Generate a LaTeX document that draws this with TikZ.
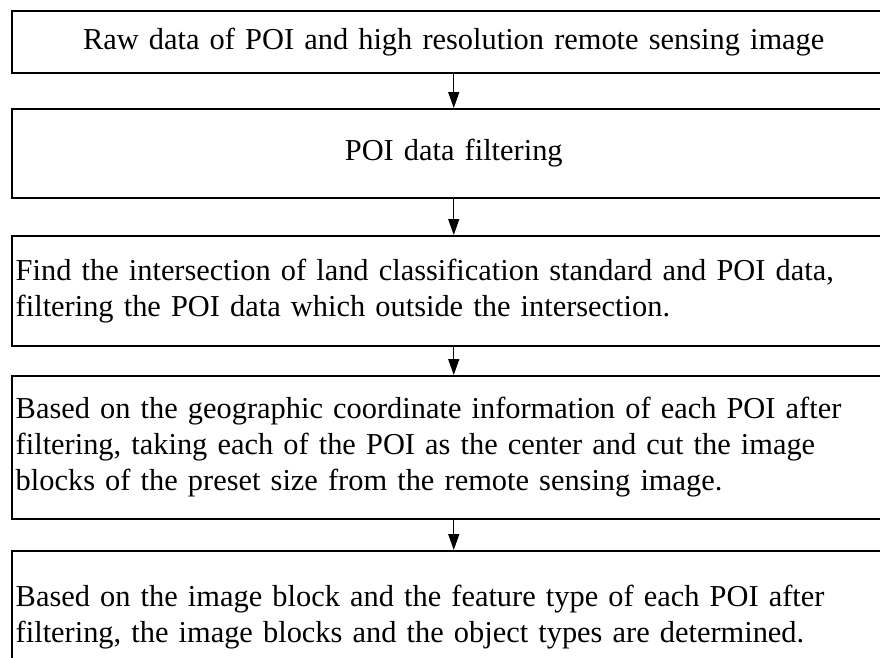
\documentclass[tikz,border=0pt]{standalone}
\usepackage{fontspec}
\setmainfont{Liberation Serif}
\usetikzlibrary{arrows.meta}
\tikzset{
  stepbox/.style={draw=black, line width=1.5pt, anchor=north west,
    minimum width=884pt, text width=876pt, inner xsep=4pt, inner ysep=0pt,
    font=\fontsize{30.4}{36}\selectfont},
  flowarrow/.style={draw=black, line width=1.4pt, -{Triangle[length=16pt,width=11pt]}}
}
\begin{document}
\begin{tikzpicture}[x=1pt,y=-1pt]
\useasboundingbox (0,0) rectangle (880,657);
\clip (0,0) rectangle (880,657);
\node[stepbox, minimum height=62pt, align=center] (b1) at (11,10)
  {Raw data of POI and high resolution remote sensing image};
\node[stepbox, minimum height=89pt, align=center] (b2) at (11,108)
  {POI data filtering};
\node[stepbox, minimum height=110pt, align=left] (b3) at (11,235)
  {Find the intersection of land classification standard and POI data,\\
   filtering the POI data which outside the intersection.};
\node[stepbox, minimum height=143pt, align=left] (b4) at (11,375)
  {Based on the geographic coordinate information of each POI after\\
   filtering, taking each of the POI as the center and cut the image\\
   blocks of the preset size from the remote sensing image.};
\node[stepbox, minimum height=132pt, align=left] (b5) at (11,550)
  {Based on the image block and the feature type of each POI after\\
   filtering, the image blocks and the object types are determined.};
\draw[flowarrow] (b1.south) -- (b2.north);
\draw[flowarrow] (b2.south) -- (b3.north);
\draw[flowarrow] (b3.south) -- (b4.north);
\draw[flowarrow] (b4.south) -- (b5.north);
\end{tikzpicture}
\end{document}
